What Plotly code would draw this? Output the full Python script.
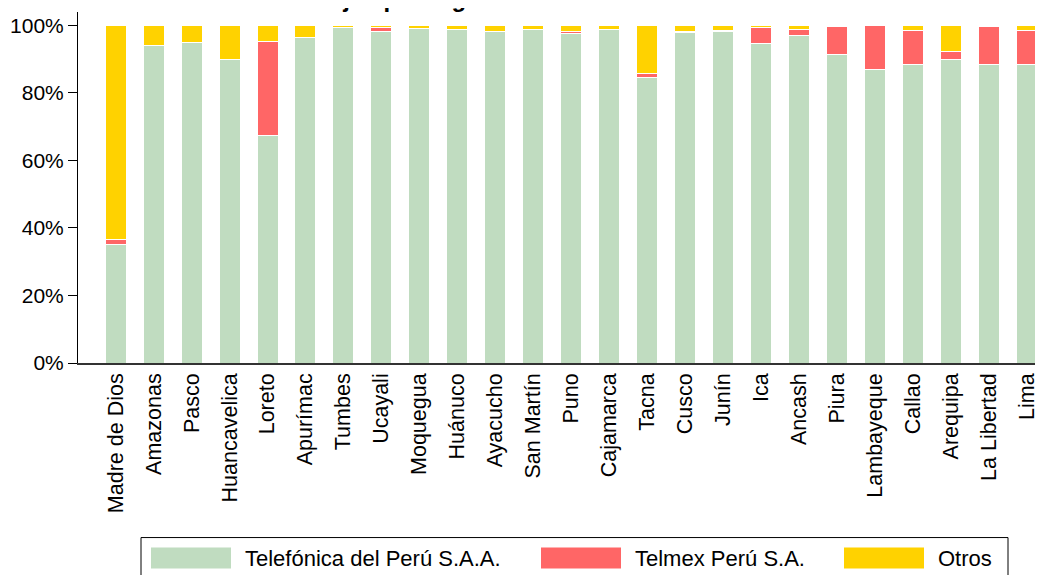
import plotly.graph_objects as go

regiones = ['Madre de Dios', 'Amazonas', 'Pasco', 'Huancavelica', 'Loreto', 'Apurímac',
            'Tumbes', 'Ucayali', 'Moquegua', 'Huánuco', 'Ayacucho', 'San Martín', 'Puno',
            'Cajamarca', 'Tacna', 'Cusco', 'Junín', 'Ica', 'Ancash', 'Piura', 'Lambayeque',
            'Callao', 'Arequipa', 'La Libertad', 'Lima']

telefonica = [35.0, 93.9, 94.8, 89.7, 67.2, 96.4, 99.2, 98.0, 99.0, 98.6, 98.0, 98.8, 97.4,
              98.6, 84.6, 97.9, 98.0, 94.7, 96.8, 91.2, 86.8, 88.3, 89.7, 88.4, 88.3]
telmex = [1.6, 0.0, 0.0, 0.0, 27.9, 0.0, 0.0, 1.2, 0.0, 0.0, 0.0, 0.0, 0.6,
          0.0, 1.2, 0.3, 0.4, 4.5, 1.8, 8.4, 13.0, 10.1, 2.6, 11.2, 10.1]
otros = [63.4, 6.1, 5.2, 10.3, 4.9, 3.6, 0.8, 0.8, 1.0, 1.4, 2.0, 1.2, 2.0,
         1.4, 14.2, 1.8, 1.6, 0.8, 1.4, 0.4, 0.2, 1.6, 7.7, 0.4, 1.6]

nombres = ['Telefónica del Perú S.A.A.', 'Telmex Perú S.A.', 'Otros']
colores = ['#C0DCC0', '#FF6666', '#FFD200']
series = [telefonica, telmex, otros]

y_ticks = [0, 20, 40, 60, 80, 100]
y_labels = ['0%', '20%', '40%', '60%', '80%', '100%']

titulo = 'Líneas fijas por región a fines de 2010'

# la página tiene 8 px de margen: la figura empieza en (8, 8) de la ventana
OFF = 8
W, H = 1043 - OFF, 575 - OFF
L, R, T, B = 78 - OFF, 0, 12 - OFF, H - (363.3 - OFF)
FONT = 'Arial, Liberation Sans, sans-serif'

fig = go.Figure()
for nombre, color, valores in zip(nombres, colores, series):
    fig.add_trace(go.Bar(x=regiones, y=valores, name=nombre,
                         marker=dict(color=color, line=dict(color='white', width=1)),
                         showlegend=False))

# leyenda propia con recuadros anchos (pixeles de ventana -> papel)
pw, ph = W - L - R, H - T - B
def px_x(px):
    return (px - OFF - L) / pw
def px_y(py):
    return (H - B - (py - OFF)) / ph

shapes = [dict(type='rect', xref='paper', yref='paper',
               x0=px_x(141), x1=px_x(1008), y0=px_y(590), y1=px_y(538),
               line=dict(color='black', width=1), fillcolor='white', layer='below')]
annotations = []
sw_x = [151, 541, 844]
for nombre, color, x0 in zip(nombres, colores, sw_x):
    shapes.append(dict(type='rect', xref='paper', yref='paper',
                       x0=px_x(x0), x1=px_x(x0 + 80), y0=px_y(569), y1=px_y(548),
                       line=dict(width=0), fillcolor=color))
    annotations.append(dict(text=nombre, xref='paper', yref='paper', x=px_x(x0 + 92),
                            y=px_y(559), xanchor='left', yanchor='middle',
                            showarrow=False, font=dict(size=22, color='black', family=FONT)))

# título (en el original queda recortado por el borde superior)
annotations.append(dict(text='<b>' + titulo + '</b>', xref='paper', yref='paper',
                        x=px_x(244), y=px_y(14), xanchor='left', yanchor='bottom',
                        showarrow=False, font=dict(size=24, color='black', family=FONT)))

fig.update_layout(
    width=W, height=H,
    barmode='stack', bargap=0.447,
    plot_bgcolor='white', paper_bgcolor='white',
    margin=dict(l=L, r=R, t=T, b=B, autoexpand=False),
    font=dict(family=FONT, size=21, color='black'),
    xaxis=dict(range=[-0.99, 24.42], tickangle=-90, showline=True, linecolor='#333333',
               linewidth=1.5, ticks='', showgrid=False, zeroline=False, automargin=False,
               tickfont=dict(size=21.5)),
    yaxis=dict(range=[0, 103.9], tickvals=y_ticks, ticktext=y_labels,
               showline=True, linecolor='black', linewidth=1, ticks='outside', ticklen=9,
               tickcolor='black', showgrid=False, zeroline=False, automargin=False),
    shapes=shapes, annotations=annotations,
)

fig.write_html('out.html')
